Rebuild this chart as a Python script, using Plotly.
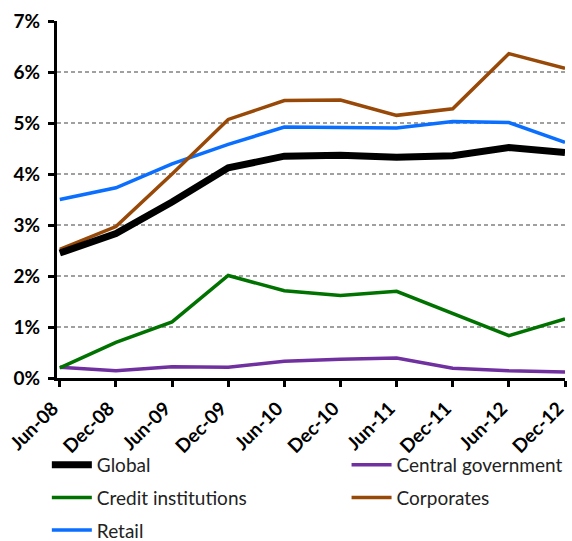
import plotly.graph_objects as go

# Half-yearly periods
periods = ["Jun-08", "Dec-08", "Jun-09", "Dec-09", "Jun-10",
           "Dec-10", "Jun-11", "Dec-11", "Jun-12", "Dec-12"]

# Ratios in percent by counterparty sector
global_vals = [2.45, 2.83, 3.45, 4.12, 4.35, 4.37, 4.33, 4.36, 4.52, 4.42]
central_gov = [0.21, 0.14, 0.22, 0.21, 0.33, 0.37, 0.39, 0.19, 0.14, 0.12]
credit_inst = [0.20, 0.70, 1.10, 2.01, 1.71, 1.62, 1.70, 1.27, 0.83, 1.16]
corporates = [2.52, 2.97, 4.00, 5.07, 5.44, 5.45, 5.15, 5.28, 6.36, 6.07]
retail = [3.50, 3.73, 4.20, 4.58, 4.92, 4.91, 4.90, 5.03, 5.01, 4.62]

y_ticks = [0, 1, 2, 3, 4, 5, 6, 7]
y_tick_text = [f"{v}%" for v in y_ticks]

FONT = "Lato, 'Open Sans', Arial, sans-serif"

series = [
    # name, values, colour, width, legend, legend rank
    ("Central government", central_gov, "#7030A0", 3.5, "legend2", 1),
    ("Credit institutions", credit_inst, "#007200", 3.5, "legend", 2),
    ("Retail", retail, "#0A6EFF", 3.5, "legend", 3),
    ("Corporates", corporates, "#984807", 3.5, "legend2", 2),
    ("Global", global_vals, "#000000", 7, "legend", 1),
]

fig = go.Figure()
for name, vals, color, width, leg, rank in series:
    fig.add_trace(go.Scatter(
        x=periods, y=vals, name=name, mode="lines",
        line=dict(color=color, width=width),
        legend=leg, legendrank=rank, legendgroup=name,
    ))

legend_common = dict(
    orientation="v",
    yanchor="top",
    font=dict(family=FONT, size=19, color="#222222"),
    tracegroupgap=5,
    itemwidth=40,
    bgcolor="rgba(0,0,0,0)",
)

fig.update_layout(
    width=572, height=541,
    margin=dict(l=57, r=7, t=21, b=163, autoexpand=False),
    paper_bgcolor="white", plot_bgcolor="white",
    font=dict(family=FONT, size=19, color="#000000"),
    showlegend=True,
    legend=dict(x=-0.02, xanchor="left", y=-0.19, **legend_common),
    legend2=dict(x=0.57, xanchor="left", y=-0.19, **legend_common),
)

fig.update_xaxes(
    type="category",
    range=[-0.05, 9.0],
    showline=True, linecolor="#000000", linewidth=3,
    ticks="outside", ticklen=6, tickwidth=3, tickcolor="#000000",
    tickangle=-45,
    ticklabelshift=-7, ticklabelstandoff=3,
    tickfont=dict(family=FONT, size=19, color="#000000", weight="bold"),
    showgrid=False, zeroline=False,
)

fig.update_yaxes(
    range=[0, 7],
    tickvals=y_ticks, ticktext=y_tick_text,
    showline=True, linecolor="#000000", linewidth=3,
    ticks="outside", ticklen=6, tickwidth=3, tickcolor="#000000",
    ticklabelstandoff=4,
    tickfont=dict(family=FONT, size=19, color="#000000", weight="bold"),
    showgrid=True, gridcolor="#A0A0A0", griddash="4px,3px", gridwidth=1.5,
    zeroline=False,
)

fig.write_html("out.html")
